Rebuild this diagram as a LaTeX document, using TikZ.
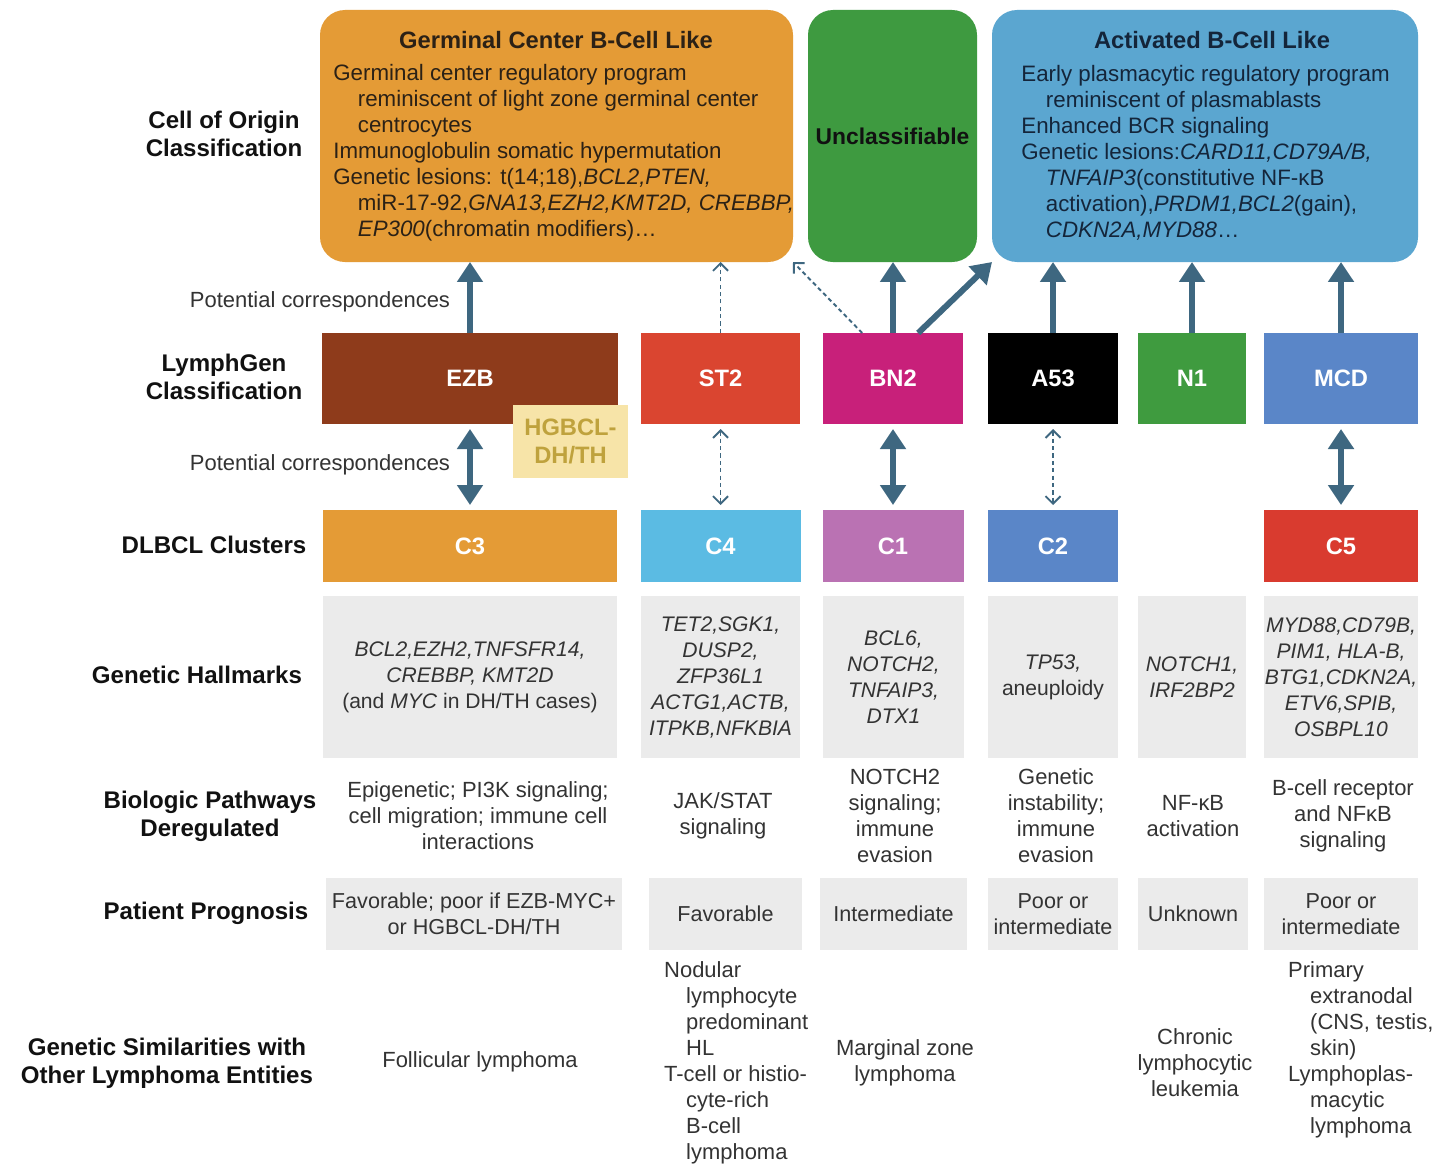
\documentclass[tikz,border=0pt]{standalone}
\usepackage{fontspec}
\setmainfont{Liberation Sans}
\usetikzlibrary{arrows.meta, calc}

\definecolor{arrowc}{HTML}{3E6780}
\definecolor{gcbc}{HTML}{E49B36}
\definecolor{uncc}{HTML}{3E9A40}
\definecolor{abcc}{HTML}{5BA6D0}
\definecolor{ezbc}{HTML}{8E3B1B}
\definecolor{st2c}{HTML}{DA4530}
\definecolor{bn2c}{HTML}{C8207A}
\definecolor{a53c}{HTML}{000000}
\definecolor{n1c}{HTML}{3F9B3F}
\definecolor{mcdc}{HTML}{5A86C8}
\definecolor{dhthc}{HTML}{F7E4A8}
\definecolor{dhthtext}{HTML}{BFA23D}
\definecolor{c4c}{HTML}{5BBBE3}
\definecolor{c1c}{HTML}{BA72B3}
\definecolor{c5c}{HTML}{D93B2F}
\definecolor{greyc}{HTML}{EBEBEB}
\definecolor{bodyc}{HTML}{333333}
\definecolor{labelc}{HTML}{111111}
\definecolor{gcbtext}{HTML}{2B2116}
\definecolor{abctext}{HTML}{14253A}

\begin{document}
\begin{tikzpicture}[x=0.02cm, y=-0.02cm,
  wh/.style 2 args={minimum width=#1*0.02cm, minimum height=#2*0.02cm},
  cell/.style={inner sep=0pt, outer sep=0pt},
  topbox/.style={cell, rounded corners=0.5cm},
  toptitle/.style={font=\fontsize{13.5}{16}\selectfont\bfseries},
  topbody/.style={align=left, inner sep=0pt, font=\fontsize{12.7}{14.8}\selectfont},
  tagbox/.style={cell, text=white, font=\fontsize{13.5}{16}\selectfont\bfseries},
  greybox/.style={cell, fill=greyc, align=center, text=bodyc, font=\fontsize{12}{14.8}\selectfont},
  rowlabel/.style={align=center, text=labelc, font=\fontsize{13.7}{16}\selectfont\bfseries},
  celltext/.style={align=center, text=bodyc, font=\fontsize{12.5}{14.8}\selectfont},
  listtext/.style={align=left, text=bodyc, font=\fontsize{12.5}{14.8}\selectfont},
  solidarr/.style={draw=arrowc, line width=0.12cm, -{Triangle[width=0.5cm, length=0.4cm]}},
  bothsolid/.style={solidarr, {Triangle[width=0.5cm, length=0.4cm]}-{Triangle[width=0.5cm, length=0.4cm]}},
  dasharr/.style={draw=arrowc, line width=1.1pt, dash pattern=on 2.4pt off 1.8pt, -{Straight Barb[width=0.3cm, length=0.15cm]}},
  bothdash/.style={dasharr, {Straight Barb[width=0.3cm, length=0.15cm]}-{Straight Barb[width=0.3cm, length=0.15cm]}}
]
  % Page frame
  \fill[white] (0,0) rectangle (1435,1166);
  \useasboundingbox (0,0) rectangle (1435,1166);

  % Cell of origin boxes
  \node[topbox, fill=gcbc, wh={473}{252}] (gcb) at (556.5,136) {};
  \node[topbox, fill=uncc, wh={169}{252}, text=labelc, font=\fontsize{13}{16}\selectfont\bfseries] (unc) at (892.5,136) {Unclassifiable};
  \node[topbox, fill=abcc, wh={426}{252}] (abc) at (1205,136) {};

  \node[toptitle, text=gcbtext] (gcbtitle) at (556,40) {Germinal Center B-Cell Like};
  \node[topbody, text=gcbtext, anchor=west] (gcbtext) at (333,153) {Germinal center regulatory program\\
    \hspace*{1.1em}reminiscent of light zone germinal center\\
    \hspace*{1.1em}centrocytes\\
    Immunoglobulin somatic hypermutation\\
    Genetic lesions: t(14;18),\textit{BCL2,PTEN,}\\
    \hspace*{1.1em}miR-17-92,\textit{GNA13,EZH2,KMT2D, CREBBP,}\\
    \hspace*{1.1em}\textit{EP300}(chromatin modifiers)\dots};

  \node[toptitle, text=abctext] (abctitle) at (1212,40) {Activated B-Cell Like};
  \node[topbody, text=abctext, anchor=west] (abctext) at (1021,153) {Early plasmacytic regulatory program\\
    \hspace*{1.1em}reminiscent of plasmablasts\\
    Enhanced BCR signaling\\
    Genetic lesions:\textit{CARD11,CD79A/B,}\\
    \hspace*{1.1em}\textit{TNFAIP3}(constitutive NF-κB\\
    \hspace*{1.1em}activation),\textit{PRDM1,BCL2}(gain),\\
    \hspace*{1.1em}\textit{CDKN2A,MYD88}\dots};

  % Row labels
  \node[rowlabel] (lcoo) at (224,134) {Cell of Origin\\Classification};
  \node[rowlabel] (llg) at (224,377) {LymphGen\\Classification};
  \node[rowlabel] (lcl) at (214,545) {DLBCL Clusters};
  \node[rowlabel] (lhm) at (197,675) {Genetic Hallmarks};
  \node[rowlabel] (lbp) at (210,816) {Biologic Pathways\\Deregulated};
  \node[rowlabel] (lpp) at (206,913) {Patient Prognosis};
  \node[rowlabel] (lgs) at (167,1063) {Genetic Similarities with\\Other Lymphoma Entities};

  \node[celltext] (pc1) at (320,302) {Potential correspondences};
  \node[celltext] (pc2) at (320,465) {Potential correspondences};

  % LymphGen classes
  \node[tagbox, fill=ezbc, wh={296}{91}] (ezb) at (470,378.5) {EZB};
  \node[tagbox, fill=st2c, wh={159}{91}] (st2) at (720.5,378.5) {ST2};
  \node[tagbox, fill=bn2c, wh={140}{91}] (bn2) at (893,378.5) {BN2};
  \node[tagbox, fill=a53c, wh={130}{91}] (a53) at (1053,378.5) {A53};
  \node[tagbox, fill=n1c, wh={108}{91}] (n1) at (1192,378.5) {N1};
  \node[tagbox, fill=mcdc, wh={154}{91}] (mcd) at (1341,378.5) {MCD};
  \node[tagbox, fill=dhthc, text=dhthtext, wh={115}{73}, align=center] (dhth) at (570.5,441.5) {HGBCL-\\DH/TH};

  % DLBCL clusters
  \node[tagbox, fill=gcbc, wh={294}{72}] (c3) at (470,546) {C3};
  \node[tagbox, fill=c4c, wh={160}{72}] (c4) at (720.5,546) {C4};
  \node[tagbox, fill=c1c, wh={141}{72}] (c1) at (893,546) {C1};
  \node[tagbox, fill=mcdc, wh={130}{72}] (c2) at (1053,546) {C2};
  \node[tagbox, fill=c5c, wh={154}{72}] (c5) at (1341,546) {C5};

  % Genetic hallmarks
  \node[greybox, wh={294}{162}] (hm3) at (470,677) {\textit{BCL2,EZH2,TNFSFR14,}\\\textit{CREBBP, KMT2D}\\(and \textit{MYC} in DH/TH cases)};
  \node[greybox, wh={159}{162}, font=\fontsize{12}{14.8}\selectfont\itshape] (hm4) at (720.5,677) {TET2,SGK1,\\DUSP2,\\ZFP36L1\\ACTG1,ACTB,\\ITPKB,NFKBIA};
  \node[greybox, wh={141}{162}, font=\fontsize{12}{14.8}\selectfont\itshape] (hm1) at (893.5,677) {BCL6,\\NOTCH2,\\TNFAIP3,\\DTX1};
  \node[greybox, wh={130}{162}] (hm2) at (1053,677) {\textit{TP53,}\\aneuploidy};
  \node[greybox, wh={108}{162}, font=\fontsize{12}{14.8}\selectfont\itshape] (hmn) at (1192,677) {NOTCH1,\\IRF2BP2};
  \node[greybox, wh={154}{162}, font=\fontsize{12}{14.8}\selectfont\itshape] (hm5) at (1341,677) {MYD88,CD79B,\\PIM1, HLA-B,\\BTG1,CDKN2A,\\ETV6,SPIB,\\OSBPL10};

  % Biologic pathways
  \node[celltext] (bp3) at (478,816) {Epigenetic; PI3K signaling;\\cell migration; immune cell\\interactions};
  \node[celltext] (bp4) at (723,816) {JAK/STAT\\signaling};
  \node[celltext] (bp1) at (895,816) {NOTCH2\\signaling;\\immune\\evasion};
  \node[celltext] (bp2) at (1056,816) {Genetic\\instability;\\immune\\evasion};
  \node[celltext] (bpn) at (1193,816) {NF-κB\\activation};
  \node[celltext] (bp5) at (1343,816) {B-cell receptor\\and NFκB\\signaling};

  % Patient prognosis
  \node[greybox, wh={296}{72}, font=\fontsize{12.3}{14.8}\selectfont] (pp3) at (474,914) {Favorable; poor if EZB-MYC+\\or HGBCL-DH/TH};
  \node[greybox, wh={153}{72}, font=\fontsize{12.3}{14.8}\selectfont] (pp4) at (725.5,914) {Favorable};
  \node[greybox, wh={147}{72}, font=\fontsize{12.3}{14.8}\selectfont] (pp1) at (893.5,914) {Intermediate};
  \node[greybox, wh={130}{72}, font=\fontsize{12.3}{14.8}\selectfont] (pp2) at (1053,914) {Poor or\\intermediate};
  \node[greybox, wh={110}{72}, font=\fontsize{12.3}{14.8}\selectfont] (ppn) at (1193,914) {Unknown};
  \node[greybox, wh={154}{72}, font=\fontsize{12.3}{14.8}\selectfont] (pp5) at (1341,914) {Poor or\\intermediate};

  % Similar lymphoma entities
  \node[celltext] (gs3) at (480,1062) {Follicular lymphoma};
  \node[listtext, anchor=west] (gs4) at (658,1063) {Nodular\\\hspace*{1em}lymphocyte\\\hspace*{1em}predominant\\\hspace*{1em}HL\\T-cell or histio-\\\hspace*{1em}cyte-rich\\\hspace*{1em}B-cell\\\hspace*{1em}lymphoma};
  \node[celltext] (gs1) at (905,1063) {Marginal zone\\lymphoma};
  \node[celltext] (gsn) at (1195,1063) {Chronic\\lymphocytic\\leukemia};
  \node[listtext, anchor=west] (gs5) at (1282,1050) {Primary\\\hspace*{1em}extranodal\\\hspace*{1em}(CNS, testis,\\\hspace*{1em}skin)\\Lymphoplas-\\\hspace*{1em}macytic\\\hspace*{1em}lymphoma};

  % Correspondences LymphGen -> cell of origin
  \draw[solidarr] (ezb.north) -- (ezb.north |- gcb.south);
  \draw[dasharr] (st2.north) -- (st2.north |- gcb.south);
  \draw[dasharr] ($(bn2.north west)!0.28!(bn2.north east)$) -- (gcb.south east);
  \draw[solidarr] (bn2.north) -- (bn2.north |- unc.south);
  \draw[solidarr] ($(bn2.north west)!0.68!(bn2.north east)$) -- (abc.south west);
  \draw[solidarr] (a53.north) -- (a53.north |- abc.south);
  \draw[solidarr] (n1.north) -- (n1.north |- abc.south);
  \draw[solidarr] (mcd.north) -- (mcd.north |- abc.south);

  % Correspondences LymphGen <-> clusters
  \draw[bothsolid, shorten <=0.1cm, shorten >=0.1cm] (ezb.south) -- (c3.north);
  \draw[bothdash, shorten <=0.1cm, shorten >=0.1cm] (st2.south) -- (c4.north);
  \draw[bothsolid, shorten <=0.1cm, shorten >=0.1cm] (bn2.south) -- (c1.north);
  \draw[bothdash, shorten <=0.1cm, shorten >=0.1cm] (a53.south) -- (c2.north);
  \draw[bothsolid, shorten <=0.1cm, shorten >=0.1cm] (mcd.south) -- (c5.north);
\end{tikzpicture}
\end{document}
